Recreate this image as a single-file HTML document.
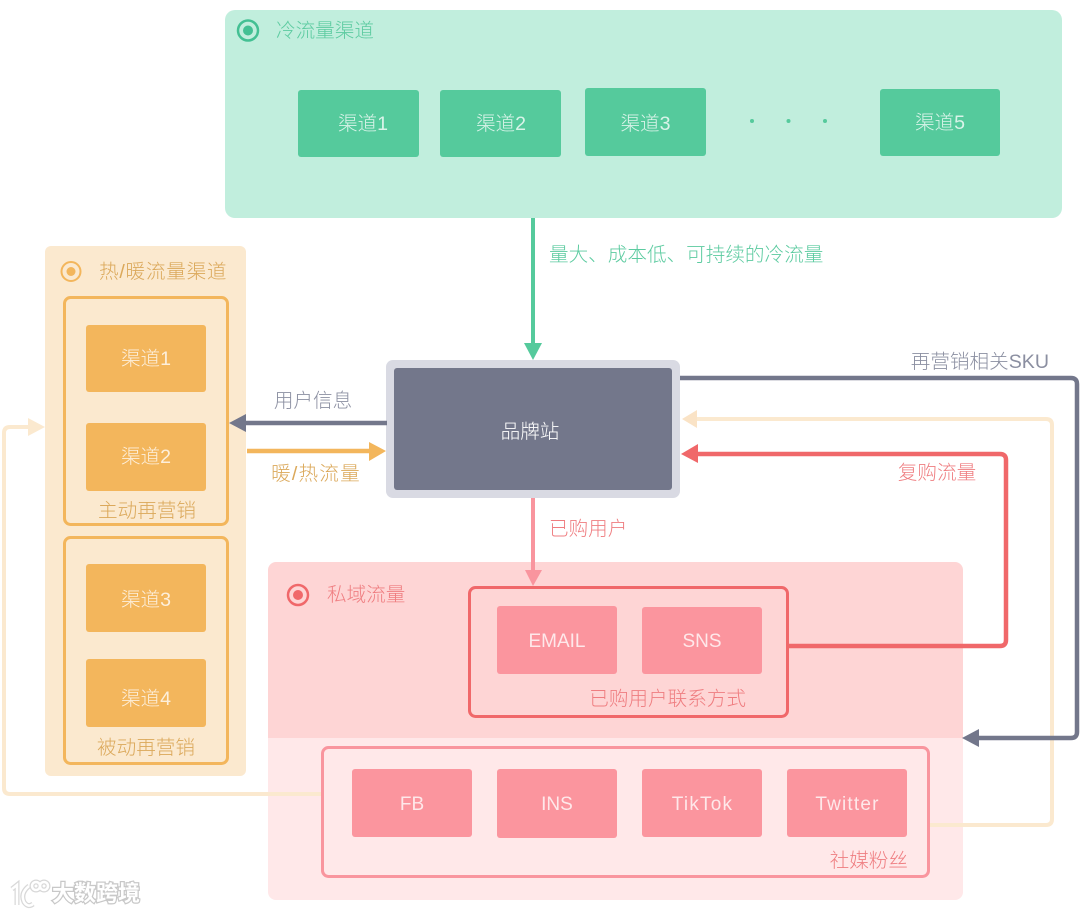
<!DOCTYPE html>
<html>
<head>
<meta charset="utf-8">
<style>
html,body{margin:0;padding:0;background:#fff;width:1080px;height:913px;overflow:hidden}
svg{display:block;filter:blur(.35px)}
text{font-family:"Liberation Sans","Noto Sans CJK SC",sans-serif;font-size:19.6px;font-weight:300}
.w{fill:#fff;fill-opacity:.78;text-anchor:middle}
.l{letter-spacing:.7px}
</style>
</head>
<body>
<svg width="1080" height="913" viewBox="0 0 1080 913" xmlns="http://www.w3.org/2000/svg">
<!-- green panel -->
<rect x="225" y="10" width="837" height="208" rx="10" fill="#c1eedd"/>
<circle cx="248" cy="30.500" r="10" fill="none" stroke="#43c093" stroke-width="2.500"/>
<circle cx="248" cy="30.500" r="5" fill="#43c093"/>
<text x="276" y="37" fill="#5ccba0">冷流量渠道</text>
<rect x="298" y="90" width="121" height="67" rx="3" fill="#55ca9c"/>
<rect x="440" y="90" width="121" height="67" rx="3" fill="#55ca9c"/>
<rect x="585" y="88" width="121" height="68" rx="3" fill="#55ca9c"/>
<rect x="880" y="89" width="120" height="67" rx="3" fill="#55ca9c"/>
<text class="w" x="363" y="130">渠道1</text>
<text class="w" x="501" y="130">渠道2</text>
<text class="w" x="645.500" y="130">渠道3</text>
<text class="w" x="940" y="129">渠道5</text>
<circle cx="752" cy="121" r="2" fill="#55ca9c"/>
<circle cx="788.500" cy="121" r="2" fill="#55ca9c"/>
<circle cx="825" cy="121" r="2" fill="#55ca9c"/>

<!-- orange panel -->
<rect x="45" y="246" width="201" height="530" rx="6" fill="#fbe9cf"/>
<circle cx="71" cy="271.500" r="9.500" fill="none" stroke="#f3b65c" stroke-width="2"/>
<circle cx="71" cy="271.500" r="4.500" fill="#f3b65c"/>
<text x="99" y="278" fill="#dba85a" style="letter-spacing:.75px">热/暖流量渠道</text>
<rect x="64.500" y="297.500" width="163" height="227" rx="6" fill="none" stroke="#f3b65c" stroke-width="3"/>
<rect x="64.500" y="537.500" width="163" height="226" rx="6" fill="none" stroke="#f3b65c" stroke-width="3"/>
<rect x="86" y="325" width="120" height="67" rx="3" fill="#f3b65c"/>
<rect x="86" y="423" width="120" height="68" rx="3" fill="#f3b65c"/>
<rect x="86" y="564" width="120" height="68" rx="3" fill="#f3b65c"/>
<rect x="86" y="659" width="120" height="68" rx="3" fill="#f3b65c"/>
<text class="w" x="146" y="365">渠道1</text>
<text class="w" x="146" y="463">渠道2</text>
<text class="w" x="146" y="606">渠道3</text>
<text class="w" x="146" y="705">渠道4</text>
<text x="147" y="517" fill="#dba85a" text-anchor="middle">主动再营销</text>
<text x="146" y="754" fill="#dba85a" text-anchor="middle">被动再营销</text>

<!-- pink panel -->
<path d="M268 738V570a8 8 0 0 1 8-8H955a8 8 0 0 1 8 8V738Z" fill="#fed5d5"/>
<path d="M268 738H963V892a8 8 0 0 1-8 8H276a8 8 0 0 1-8-8Z" fill="#ffe8e9"/>
<circle cx="298" cy="595" r="10" fill="none" stroke="#f0686a" stroke-width="2.500"/>
<circle cx="298" cy="595" r="5" fill="#f0686a"/>
<text x="327" y="601" fill="#ef7d80">私域流量</text>

<!-- connectors behind -->
<path d="M322 794H10Q4 794 4 788V433Q4 427 10 427H30" fill="none" stroke="#fbe9cf" stroke-width="4"/>
<path d="M45 427L28 418V436Z" fill="#fbe9cf"/>
<path d="M929 825H1046Q1052 825 1052 819V425Q1052 419 1046 419H696" fill="none" stroke="#fbe9cf" stroke-width="4"/>
<path d="M682 419L697 410V428Z" fill="#fae3c6"/>

<rect x="469.500" y="587.500" width="318" height="129" rx="6" fill="none" stroke="#f0686a" stroke-width="3"/>
<rect x="322.500" y="747.500" width="606" height="129" rx="6" fill="none" stroke="#f9959e" stroke-width="3"/>
<rect x="497" y="606" width="120" height="68" rx="3" fill="#fb959e"/>
<rect x="642" y="607" width="120" height="67" rx="3" fill="#fb959e"/>
<rect x="352" y="769" width="120" height="68" rx="3" fill="#fb959e"/>
<rect x="497" y="769" width="120" height="69" rx="3" fill="#fb959e"/>
<rect x="642" y="769" width="120" height="68" rx="3" fill="#fb959e"/>
<rect x="787" y="769" width="120" height="68" rx="3" fill="#fb959e"/>
<text class="w" x="557" y="647" style="font-size:19px">EMAIL</text>
<text class="w" x="702" y="647" style="font-size:19px">SNS</text>
<text class="w" x="412" y="810" style="font-size:19px">FB</text>
<text class="w" x="557" y="810" style="font-size:19px">INS</text>
<text class="w l" x="702.500" y="810" style="font-size:19px;letter-spacing:1.200px">TikTok</text>
<text class="w l" x="847.500" y="810" style="font-size:19px;letter-spacing:1.200px">Twitter</text>
<text x="746" y="705" fill="#ef7d80" text-anchor="end">已购用户联系方式</text>
<text x="908" y="867" fill="#ef7d80" text-anchor="end">社媒粉丝</text>

<!-- brand box -->
<rect x="386" y="360" width="294" height="138" rx="7" fill="#d9dae3"/>
<rect x="394" y="368" width="278" height="122" rx="3" fill="#73778b"/>
<text x="530" y="438" fill="#fff" text-anchor="middle">品牌站</text>

<!-- green arrow -->
<path d="M533 218V346" stroke="#55ca9c" stroke-width="4" fill="none"/>
<path d="M533 360L524 343H542Z" fill="#55ca9c"/>
<text x="549" y="261" fill="#5ccba0">量大、成本低、可持续的冷流量</text>

<!-- left arrows -->
<path d="M387 423H244" stroke="#73778b" stroke-width="4.500" fill="none"/>
<path d="M229 423L246 414V432Z" fill="#73778b"/>
<text x="313" y="407" fill="#8b8fa1" text-anchor="middle">用户信息</text>
<path d="M247 451H372" stroke="#f3b65c" stroke-width="4.500" fill="none"/>
<path d="M386 451L369 442V461Z" fill="#f3b65c"/>
<text x="316" y="480" fill="#dba85a" text-anchor="middle" style="letter-spacing:1.200px">暖/热流量</text>

<!-- purchased users -->
<path d="M533 498V572" stroke="#f9959e" stroke-width="4" fill="none"/>
<path d="M533 586L525 570H542Z" fill="#f9959e"/>
<text x="549" y="535" fill="#ef7d80">已购用户</text>

<!-- repurchase -->
<path d="M788 646H1000Q1006 646 1006 640V460Q1006 454 1000 454H696" fill="none" stroke="#f0686a" stroke-width="4.500"/>
<path d="M681 454L698 444V463Z" fill="#f0686a"/>
<text x="937" y="479" fill="#ef7d80" text-anchor="middle">复购流量</text>

<!-- SKU -->
<path d="M680 378H1071Q1077 378 1077 384V732Q1077 738 1071 738H978" fill="none" stroke="#73778b" stroke-width="4.500"/>
<path d="M962 738L979 729V747Z" fill="#73778b"/>
<text x="1049" y="368" fill="#8b8fa1" text-anchor="end">再营销相关SKU</text>

<!-- watermark -->
<g fill="none" stroke="#cfcfcf" stroke-width="5" opacity=".8">
<path d="M12 889L17 885V905"/>
<path d="M29 886Q20 893 24 902Q28 908 33 904"/>
<circle cx="36" cy="886" r="4"/>
<circle cx="44" cy="886" r="4"/>
</g>
<g fill="none" stroke="#fff" stroke-width="2.500">
<path d="M12 889L17 885V905"/>
<path d="M29 886Q20 893 24 902Q28 908 33 904"/>
<circle cx="36" cy="886" r="4"/>
<circle cx="44" cy="886" r="4"/>
</g>
<text x="52" y="901" fill="#fff" stroke="#c8c8c8" stroke-width="2.500" paint-order="stroke" style="font-size:22px;font-weight:700">大数跨境</text>
</svg>
</body>
</html>
